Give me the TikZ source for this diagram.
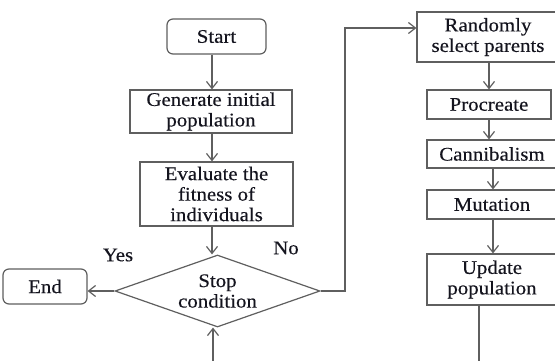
\documentclass[tikz,border=0pt]{standalone}
\usepackage{fontspec}
\setmainfont[FakeStretch=1.08,FakeBold=0.3]{Liberation Serif}
\usetikzlibrary{arrows.meta,shapes.geometric,calc}
\definecolor{lg}{RGB}{95,95,95}
\definecolor{tx}{RGB}{20,20,30}
\begin{document}
\begin{tikzpicture}[x=1pt,y=-1pt,
 every node/.style={font=\fontsize{19.3}{20.5}\selectfont, text=tx},
 box/.style={draw=lg, line width=1.2pt, rectangle, align=center, inner sep=0pt},
 rbox/.style={box, rounded corners=6pt},
 arr/.style={draw=lg, line width=1.2pt, -{Straight Barb[length=7pt,width=11pt]}},
 ln/.style={draw=lg, line width=1.2pt}]
\useasboundingbox (0,0) rectangle (555,360);
\clip (0,0) rectangle (555,360);
\fill[white] (0,0) rectangle (555,360);
% left column
\node[rbox, minimum width=99pt, minimum height=35pt] (start) at (216.5,36.5) {Start};
\node[box, minimum width=162pt, minimum height=43pt] (gen) at (211,111.5) {Generate initial\\population};
\node[box, minimum width=153pt, minimum height=64pt] (eval) at (216.5,194) {Evaluate the\\fitness of\\individuals};
\node[draw=lg, line width=1.2pt, diamond, aspect=2.85, minimum width=205pt, minimum height=72pt, inner sep=0pt, align=center] (stop) at (217.5,291) {Stop\\condition};
\node[rbox, minimum width=84pt, minimum height=35pt] (endn) at (45,286.5) {End};
\node (yes) at (118,255) {Yes};
\node (no) at (286,248) {No};
% right column
\node[box, minimum width=142pt, minimum height=50pt] (rand) at (488,37) {Randomly\\select parents};
\node[box, minimum width=124pt, minimum height=29pt] (proc) at (489,104.5) {Procreate};
\node[box, minimum width=130pt, minimum height=28pt] (cann) at (492,154) {Cannibalism};
\node[box, minimum width=130pt, minimum height=29pt] (mut) at (492,204.5) {Mutation};
\node[box, minimum width=130pt, minimum height=51pt] (upd) at (492,279.5) {Update\\population};
% connectors
\draw[arr] ([xshift=-4.5pt]start.south) -- ([xshift=-4.5pt]start.south |- gen.north);
\draw[arr] ([xshift=1pt]gen.south) -- ([xshift=1pt]gen.south |- eval.north);
\draw[arr] ([xshift=-4.5pt]eval.south) -- ([xshift=-4.5pt]eval.south |- stop.north);
\draw[arr] (stop.west) -- (stop.west -| endn.east);
\coordinate (c1) at (345,28);
\draw[arr] (stop.east) -| (c1) -- (c1 -| rand.west);
\draw[arr] (rand.south -| proc.north) -- (proc.north);
\draw[arr] (proc.south) -- (proc.south |- cann.north);
\draw[arr] ([xshift=1pt]cann.south) -- ([xshift=1pt]cann.south |- mut.north);
\draw[arr] ([xshift=1pt]mut.south) -- ([xshift=1pt]mut.south |- upd.north);
\coordinate (b1) at (479,365);
\draw[ln] (upd.south -| b1) -- (b1);
\coordinate (b2) at (213,365);
\draw[arr] (b2) -- (b2 |- stop.south);
\end{tikzpicture}
\end{document}
